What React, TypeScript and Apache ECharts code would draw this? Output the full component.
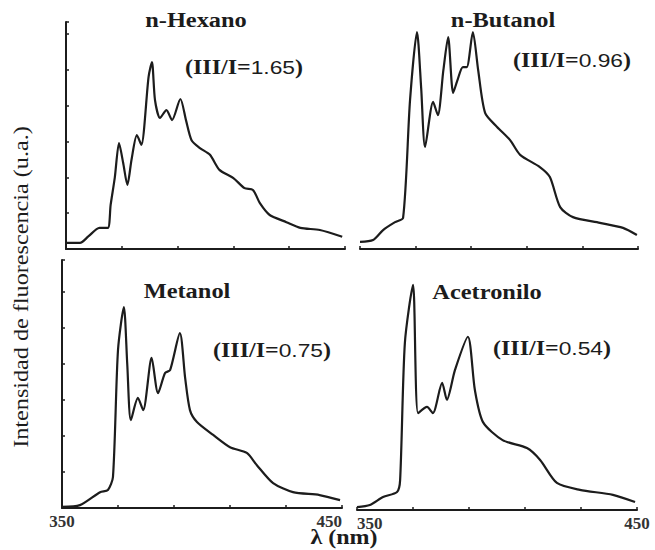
import React, { useEffect, useRef } from "react";
import * as echarts from "echarts";

// Wavelength (nm) / intensity (a.u.) pairs
const hexano: [number, number][] = [
  [350, 1.7], [355, 1.7], [358, 3.5], [362, 5.9], [365, 5.9], [366, 12.3], [367.5, 20],
  [369, 29.6], [370.5, 24], [372, 17.9], [373.5, 25], [375.4, 31.8], [377, 29.1],
  [379.6, 48.1], [380.8, 52.2], [381.9, 41.6], [383.7, 36.6], [386, 38.8], [388, 36],
  [391, 41.9], [393, 36], [395, 30.4], [398, 28.2], [401.6, 26.3], [405, 22.1],
  [410, 19.8], [414, 17], [417, 16.5], [419.5, 12.8], [423, 9.5], [429, 7.5],
  [434, 5.9], [441, 5.3], [449, 3.4],
];
const butanol: [number, number][] = [
  [350, 2.0], [354.7, 2.5], [358.3, 5.3], [362.6, 7.5], [365.5, 8.7], [368, 41.6],
  [370.5, 60.6], [372, 45], [373.4, 28.5], [376.3, 41.1], [378, 37.4], [380, 50],
  [381.7, 59.2], [383.5, 43.6], [385, 47], [387, 50.8], [388.4, 50.8], [390.6, 60.6],
  [392.5, 50], [395, 38], [399.3, 34.1], [404, 30.4], [407.6, 26.3], [414.7, 22.9],
  [418.3, 20.1], [422, 11.7], [426.6, 8.9], [436.3, 7.3], [444.6, 5.9], [449.6, 3.9],
];
const metanol: [number, number][] = [
  [350, 0.3], [356.4, 0.8], [363.6, 4.4], [366.4, 5.0], [368.2, 8.6], [370, 43.9],
  [372.1, 55.8], [373.3, 40], [374.6, 24.4], [377.1, 30.6], [379, 27.2], [382, 41.7],
  [384.3, 31.9], [386.8, 37.5], [388.6, 38.3], [392.1, 48.6], [394, 36], [395.7, 27.2],
  [398.2, 23.9], [404, 20.3], [410, 16.9], [416, 15.3], [419.6, 11.9], [425.4, 6.9],
  [432.5, 4.4], [442, 3.6], [449.3, 2.2],
];
const acetronilo: [number, number][] = [
  [350, 0.8], [354.6, 1.4], [359.3, 3.6], [364.3, 5.0], [365.4, 8.3], [367.1, 46.4],
  [370, 62.5], [371.8, 26.9], [375, 28.6], [377.1, 26.9], [380.4, 35.3], [382.1, 30.6],
  [385, 38.9], [389.6, 48.1], [392.1, 33.3], [395, 24.4], [402, 19.4], [410.7, 17.2],
  [415.4, 13.9], [421.4, 7.5], [429.6, 5.6], [441.4, 4.2], [449.3, 2.2],
];

const panelNames = ["n-Hexano", "n-Butanol", "Metanol", "Acetronilo"];
const ratios = ["1.65", "0.96", "0.75", "0.54"];
const xMin = 350;
const xMax = 450;
const xStep = 20;
const yStep = 10;

const INK = "#1c1c1c";
const SERIF = "'Liberation Serif', 'DejaVu Serif', serif";
const SANS = "'Liberation Sans', Arial, sans-serif";

export default function App() {
  const ref = useRef<HTMLDivElement>(null);

  useEffect(() => {
    if (!ref.current) return;
    const chart = echarts.init(ref.current, undefined, { renderer: "svg" });

    const grids = [
      { left: 66, top: 22, width: 279, height: 227, yMax: 63.4, yLine: true, labels: false },
      { left: 360, top: 22, width: 278, height: 227, yMax: 63.4, yLine: false, labels: false },
      { left: 62, top: 260, width: 280, height: 248, yMax: 68.9, yLine: true, labels: true },
      { left: 357, top: 260, width: 280, height: 250, yMax: 69.4, yLine: false, labels: true },
    ];
    const data = [hexano, butanol, metanol, acetronilo];

    const titlePos = [
      [196, 20], [503, 20], [187, 291], [487, 292],
    ];
    const ratioPos = [
      [244, 67], [572, 60], [272, 350], [552, 348],
    ];

    const graphic: any[] = [];
    panelNames.forEach((name, i) => {
      graphic.push({
        type: "text",
        x: titlePos[i][0],
        y: titlePos[i][1],
        scaleX: 1.22,
        style: {
          text: name,
          font: `bold 20px ${SERIF}`,
          fill: INK,
          textAlign: "center",
          textVerticalAlign: "middle",
        },
      });
      graphic.push({
        type: "text",
        x: ratioPos[i][0],
        y: ratioPos[i][1],
        scaleX: 1.2,
        style: {
          text: `{a|(III/I=}{b|${ratios[i]}}{a|)}`,
          rich: {
            a: { fontFamily: SERIF, fontWeight: "bold", fontSize: 20, fill: INK },
            b: { fontFamily: SANS, fontWeight: "normal", fontSize: 19, fill: INK },
          },
          textAlign: "center",
          textVerticalAlign: "middle",
        },
      });
    });
    graphic.push({
      type: "text",
      x: 20,
      y: 287,
      rotation: Math.PI / 2,
      scaleX: 1.1,
      style: {
        text: "Intensidad de fluorescencia (u.a.)",
        font: `22px ${SERIF}`,
        fill: INK,
        textAlign: "center",
        textVerticalAlign: "middle",
      },
    });
    graphic.push({
      type: "text",
      x: 344,
      y: 537,
      scaleX: 1.2,
      style: {
        text: "λ (nm)",
        font: `bold 20px ${SERIF}`,
        fill: INK,
        textAlign: "center",
        textVerticalAlign: "middle",
      },
    });

    const option: any = {
      animation: false,
      backgroundColor: "#ffffff",
      grid: grids.map((g) => ({ left: g.left, top: g.top, width: g.width, height: g.height })),
      xAxis: grids.map((g, i) => ({
        type: "value",
        gridIndex: i,
        min: xMin,
        max: xMax,
        interval: xStep,
        axisLine: { show: true, lineStyle: { color: INK, width: 2 } },
        axisTick: { show: true, inside: true, length: 3, lineStyle: { color: INK, width: 1.5 } },
        splitLine: { show: false },
        axisLabel: {
          show: g.labels,
          margin: 6,
          fontFamily: SERIF,
          fontWeight: "bold",
          fontSize: 17,
          lineHeight: 14,
          color: "#333",
          formatter: (v: number) => (v === xMin || v === xMax ? String(v) : ""),
          alignMaxLabel: i === 2 ? "right" : "center",
          alignMinLabel: i === 3 ? "left" : "center",
        },
      })),
      yAxis: grids.map((g, i) => ({
        type: "value",
        gridIndex: i,
        min: 0,
        max: g.yMax,
        interval: yStep,
        axisLine: { show: g.yLine, lineStyle: { color: INK, width: 2 } },
        axisTick: { show: g.yLine, inside: true, length: 3, lineStyle: { color: INK, width: 1.5 } },
        axisLabel: { show: false },
        splitLine: { show: false },
      })),
      series: data.map((d, i) => ({
        type: "line",
        xAxisIndex: i,
        yAxisIndex: i,
        data: d,
        showSymbol: false,
        smooth: 0.25,
        lineStyle: { color: INK, width: 2.2 },
      })),
      graphic,
    };

    chart.setOption(option);
    return () => chart.dispose();
  }, []);

  return (
    <div
      ref={ref}
      style={{ position: "fixed", left: 0, top: 0, width: 655, height: 550, background: "#fff" }}
    />
  );
}
